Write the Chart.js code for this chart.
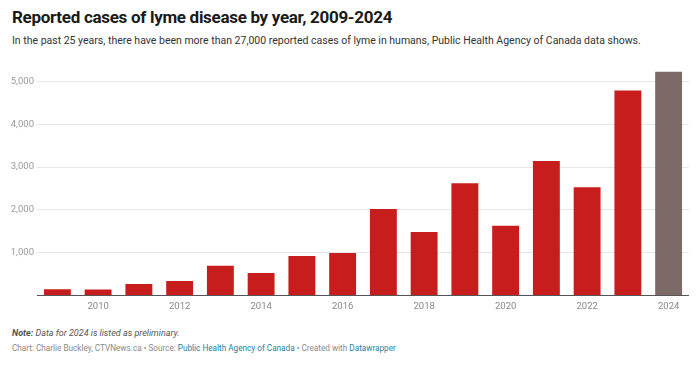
<!DOCTYPE html>
<html>
<head>
<meta charset="utf-8">
<script src="https://cdn.jsdelivr.net/npm/chart.js@4"></script>
<style>
  html, body { margin: 0; padding: 0; background: #fff; }
  body { width: 699px; height: 366px; position: relative; overflow: hidden; font-family: Roboto, sans-serif; }
  #title { position: absolute; left: 12px; top: 7px; font-size: 17px; font-weight: 700; color: #1a1a1a; letter-spacing: -0.3px; white-space: nowrap; }
  #subtitle { position: absolute; left: 12px; top: 34px; font-size: 10.5px; color: #333; white-space: nowrap; }
  #chartBox { position: absolute; left: 0; top: 60px; width: 699px; height: 260px; }
  #note { position: absolute; left: 12px; top: 328px; font-size: 9px; font-style: italic; color: #555; white-space: nowrap; }
  #credit { position: absolute; left: 12px; top: 343px; font-size: 8.2px; color: #888; white-space: nowrap; }
  #credit a { color: #1d81a2; text-decoration: none; }
</style>
</head>
<body>
<div id="title">Reported cases of lyme disease by year, 2009-2024</div>
<div id="subtitle">In the past 25 years, there have been more than 27,000 reported cases of lyme in humans, Public Health Agency of Canada data shows.</div>
<div id="chartBox"><canvas id="myChart"></canvas></div>
<div id="note"><b>Note:</b> Data for 2024 is listed as preliminary.</div>
<div id="credit">Chart: Charlie Buckley, CTVNews.ca • Source: <a>Public Health Agency of Canada</a> • Created with <a>Datawrapper</a></div>
<script>
const YEARS = ['2009', '2010', '2011', '2012', '2013', '2014', '2015', '2016',
  '2017', '2018', '2019', '2020', '2021', '2022', '2023', '2024']
const CASES = [144, 143, 270, 340, 698, 528, 922, 994,
  2022, 1483, 2625, 1628, 3142, 2530, 4790, 5230]
const Y_TICKS = [0, 1000, 2000, 3000, 4000, 5000]

const RED = '#c71e1d'
const PRELIM = '#7b6a68'

const barColors = YEARS.map(y => (y === '2024' ? PRELIM : RED))

new Chart(document.getElementById('myChart'), {
  type: 'bar',
  data: {
    labels: YEARS,
    datasets: [{
      data: CASES,
      backgroundColor: barColors,
      borderWidth: 0,
      barPercentage: 0.66,
      categoryPercentage: 1,
    }],
  },
  options: {
    responsive: true,
    maintainAspectRatio: false,
    animation: false,
    layout: { padding: { top: 8, right: 10, left: 0, bottom: 0 } },
    plugins: { legend: { display: false }, tooltip: { enabled: false } },
    scales: {
      x: {
        grid: { display: false, drawTicks: false },
        border: { display: false },
        ticks: {
          autoSkip: false,
          maxRotation: 0,
          padding: 5,
          color: '#888',
          font: { family: 'Roboto', size: 9.5 },
          callback: (v, i) => (Number(YEARS[i]) % 2 === 0 ? YEARS[i] : ''),
        },
        afterFit: (axis) => { axis.height = 24.5 },
      },
      y: {
        min: 0,
        max: 5300,
        afterBuildTicks: (axis) => { axis.ticks = Y_TICKS.map(v => ({ value: v })) },
        border: { display: false },
        grid: {
          drawTicks: false,
          color: (ctx) => (ctx.tick && ctx.tick.value === 0 ? '#555' : '#e6e6e6'),
        },
        ticks: {
          padding: 3,
          color: '#999',
          font: { family: 'Roboto', size: 9.5 },
          callback: (v) => (v === 0 ? '' : v.toLocaleString('en-US')),
        },
        afterFit: (axis) => { axis.width = 37 },
      },
    },
  },
})
</script>
</body>
</html>
